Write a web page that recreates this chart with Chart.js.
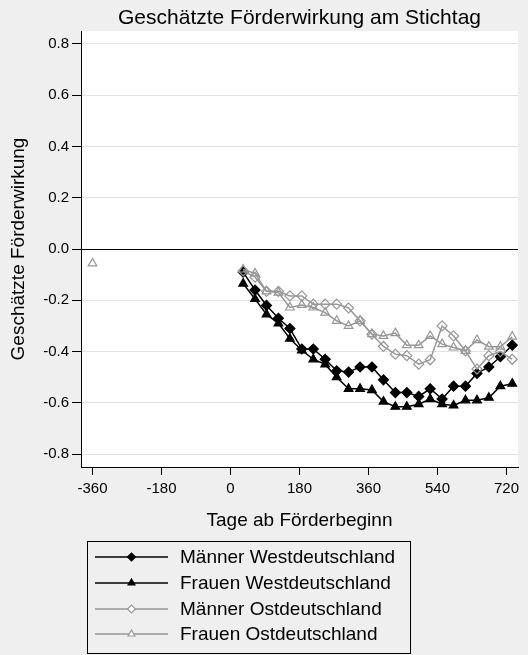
<!DOCTYPE html>
<html><head><meta charset="utf-8">
<script src="https://cdn.jsdelivr.net/npm/chart.js@4/dist/chart.umd.min.js"></script>
<style>html,body{margin:0;padding:0;background:#efefef;}#wrap{width:528px;height:655px;}</style>
</head><body><div id="wrap"><canvas id="c" width="528" height="655"></canvas></div>
<script>
const titleText = 'Geschätzte Förderwirkung am Stichtag';
const xTitle = 'Tage ab Förderbeginn';
const yTitle = 'Geschätzte Förderwirkung';
const seriesNames = ['Männer Westdeutschland', 'Frauen Westdeutschland', 'Männer Ostdeutschland', 'Frauen Ostdeutschland'];
const days = [33, 64, 94, 125, 155, 186, 216, 247, 277, 308, 338, 369, 399, 430, 460, 491, 521, 552, 582, 613, 643, 674, 704, 735];
const maennerWest = [-0.09, -0.16, -0.22, -0.27, -0.31, -0.39, -0.39, -0.43, -0.475, -0.48, -0.46, -0.46, -0.51, -0.56, -0.56, -0.575, -0.545, -0.585, -0.535, -0.535, -0.485, -0.46, -0.42, -0.375];
const frauenWest = [-0.135, -0.195, -0.255, -0.29, -0.35, -0.395, -0.43, -0.45, -0.5, -0.545, -0.545, -0.55, -0.595, -0.615, -0.615, -0.605, -0.585, -0.605, -0.61, -0.59, -0.59, -0.58, -0.535, -0.525];
const maennerOst = [-0.085, -0.11, -0.165, -0.165, -0.183, -0.183, -0.215, -0.215, -0.215, -0.23, -0.28, -0.332, -0.38, -0.41, -0.416, -0.449, -0.432, -0.3, -0.339, -0.397, -0.468, -0.416, -0.4, -0.43];
const frauenOst = [-0.08, -0.095, -0.165, -0.17, -0.228, -0.218, -0.228, -0.248, -0.28, -0.3, -0.28, -0.332, -0.339, -0.328, -0.375, -0.375, -0.339, -0.371, -0.384, -0.397, -0.355, -0.381, -0.381, -0.342];
const preDays = [-360];
const preFrauenOst = [-0.056];
const xTicks = [-360, -180, 0, 180, 360, 540, 720];
const yTicks = [-0.8, -0.6, -0.4, -0.2, 0, 0.2, 0.4, 0.6, 0.8];

const FONT = "'Liberation Sans', Arial, sans-serif";
const BLACK = '#000000';
const GRAY = '#979797';
const pts = (xs, ys) => xs.map((x, i) => ({x: x, y: ys[i]}));

function ds(label, xs, ys, color, style, filled, showLine, order) {
  return {
    label: label, data: pts(xs, ys), order: order,
    borderColor: color, backgroundColor: filled ? color : 'rgba(0,0,0,0)',
    pointBorderColor: color, pointBackgroundColor: filled ? color : 'rgba(0,0,0,0)',
    pointStyle: style, pointRadius: 5, pointHoverRadius: 5, pointBorderWidth: 1.2,
    borderWidth: 1.5, showLine: showLine, tension: 0, fill: false
  };
}

const datasets = [
  ds(seriesNames[0], days, maennerWest, BLACK, 'rectRot', true, true, 4),
  ds(seriesNames[1], days, frauenWest, BLACK, 'triangle', true, true, 3),
  ds(seriesNames[2], days, maennerOst, GRAY, 'rectRot', false, true, 2),
  ds(seriesNames[3], days, frauenOst, GRAY, 'triangle', false, true, 1),
  ds(seriesNames[3], preDays, preFrauenOst, GRAY, 'triangle', false, false, 0)
];

const bgPlugin = {
  id: 'bg',
  beforeDraw(chart) {
    const ctx = chart.ctx, a = chart.chartArea;
    ctx.save();
    ctx.fillStyle = '#efefef';
    ctx.fillRect(0, 0, chart.width, chart.height);
    ctx.fillStyle = '#ffffff';
    ctx.fillRect(a.left, a.top, a.right - a.left, a.bottom - a.top);
    ctx.restore();
  }
};

const titlePlugin = {
  id: 'ptitle',
  afterDraw(chart) {
    const ctx = chart.ctx, a = chart.chartArea;
    ctx.save();
    ctx.fillStyle = '#000';
    ctx.font = '21px ' + FONT;
    ctx.textAlign = 'center';
    ctx.textBaseline = 'middle';
    ctx.fillText(titleText, (a.left + a.right) / 2, 18);
    ctx.restore();
  }
};

const legendPlugin = {
  id: 'plegend',
  afterDraw(chart) {
    const ctx = chart.ctx;
    const box = {x: 87.5, y: 541.5, w: 323, h: 112};
    ctx.save();
    ctx.strokeStyle = '#000';
    ctx.lineWidth = 1;
    ctx.strokeRect(box.x, box.y, box.w, box.h);
    const rows = [557, 583, 609, 634];
    for (let i = 0; i < 4; i++) {
      const d = chart.data.datasets[i];
      const y = rows[i];
      ctx.strokeStyle = d.borderColor;
      ctx.lineWidth = d.borderWidth;
      ctx.beginPath();
      ctx.moveTo(95, y);
      ctx.lineTo(168, y);
      ctx.stroke();
      ctx.fillStyle = d.pointBackgroundColor === 'rgba(0,0,0,0)' ? '#ffffff' : d.pointBackgroundColor;
      ctx.strokeStyle = d.pointBorderColor;
      ctx.lineWidth = 1.2;
      Chart.helpers.drawPoint(ctx, {pointStyle: d.pointStyle, radius: 4, borderWidth: 1.2}, 131.5, y);
      ctx.fillStyle = '#000';
      ctx.font = '19px ' + FONT;
      ctx.textAlign = 'left';
      ctx.textBaseline = 'middle';
      ctx.fillText(d.label, 180, y + 1);
    }
    ctx.restore();
  }
};

new Chart(document.getElementById('c'), {
  type: 'line',
  data: {datasets: datasets},
  plugins: [bgPlugin, titlePlugin, legendPlugin],
  options: {
    responsive: false,
    animation: false,
    layout: {padding: {left: 0, right: 10, top: 31, bottom: 118}},
    plugins: {legend: {display: false}, tooltip: {enabled: false}, title: {display: false}},
    scales: {
      x: {
        type: 'linear', min: -390, max: 750,
        afterBuildTicks: (s) => { s.ticks = xTicks.map(v => ({value: v})); },
        afterFit: (s) => { s.height = 70; },
        border: {display: true, color: '#000', width: 1},
        grid: {drawOnChartArea: false, drawTicks: true, tickLength: 8, tickColor: '#000', tickWidth: 1},
        ticks: {color: '#000', font: {family: FONT, size: 15}, padding: 5, maxRotation: 0, autoSkip: false,
                callback: (v) => String(v)},
        title: {display: true, text: xTitle, color: '#000', font: {family: FONT, size: 19}, padding: {top: 0, bottom: 5}}
      },
      y: {
        type: 'linear', min: -0.85, max: 0.85,
        afterBuildTicks: (s) => { s.ticks = yTicks.map(v => ({value: v})); },
        afterFit: (s) => { s.width = 81; },
        border: {display: true, color: '#000', width: 1},
        grid: {
          color: (c) => (c.tick && Math.abs(c.tick.value) < 1e-9) ? '#000' : '#e2e2e2',
          lineWidth: 1, drawTicks: true, tickLength: 9, tickColor: '#000', tickWidth: 1
        },
        ticks: {color: '#000', font: {family: FONT, size: 15}, padding: 3, autoSkip: false,
                callback: (v) => Number(v).toFixed(1)},
        title: {display: true, text: yTitle, color: '#000', font: {family: FONT, size: 19}, padding: {top: 7, bottom: 0}}
      }
    }
  }
});
</script></body></html>
